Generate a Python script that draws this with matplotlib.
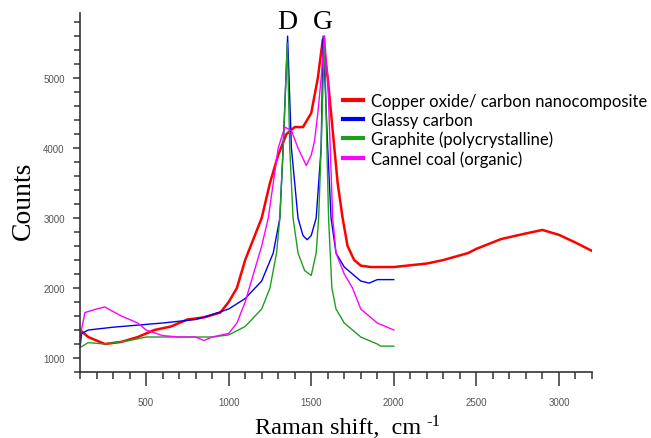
import matplotlib
matplotlib.use("Agg")
import matplotlib.pyplot as plt
from matplotlib.ticker import MultipleLocator
import matplotlib.transforms as mtransforms

# Raman spectra, values (cm-1, counts)
red_x = [100, 150, 250, 350, 450, 550, 650, 750, 850, 950, 1000, 1050, 1100,
         1150, 1200, 1250, 1300, 1350, 1400, 1450, 1500, 1540, 1570, 1600,
         1640, 1660, 1690, 1720, 1760, 1800, 1860, 2000, 2200, 2300, 2450,
         2500, 2650, 2800, 2900, 3000, 3100, 3200]
red_y = [1400, 1300, 1200, 1230, 1300, 1400, 1450, 1550, 1580, 1650, 1800,
         2000, 2400, 2700, 3000, 3500, 3900, 4200, 4300, 4300, 4500, 5000,
         5550, 5000, 4000, 3500, 3000, 2600, 2400, 2320, 2300, 2300, 2350,
         2400, 2500, 2560, 2700, 2780, 2830, 2760, 2650, 2530]

blue_x = [100, 110, 150, 300, 600, 800, 900, 1000, 1100, 1200, 1270, 1310,
          1330, 1357, 1380, 1420, 1450, 1475, 1500, 1530, 1560, 1572, 1600,
          1620, 1650, 1700, 1750, 1800, 1850, 1900, 2000]
blue_y = [1150, 1350, 1400, 1440, 1500, 1550, 1620, 1700, 1850, 2100, 2500,
          3000, 4000, 5600, 4000, 3000, 2750, 2690, 2750, 3000, 4000, 5600,
          4000, 3000, 2500, 2300, 2200, 2100, 2070, 2120, 2120]

green_x = [100, 150, 250, 400, 500, 700, 900, 1000, 1100, 1200, 1250, 1290,
           1310, 1330, 1355, 1370, 1390, 1420, 1460, 1500, 1530, 1545, 1560,
           1580, 1595, 1605, 1625, 1650, 1700, 1750, 1800, 1850, 1900, 1920,
           2000]
green_y = [1150, 1220, 1200, 1250, 1300, 1300, 1300, 1330, 1450, 1700, 2000,
           2500, 3000, 4000, 5500, 4000, 3000, 2500, 2250, 2180, 2500, 3000,
           4000, 5600, 4000, 3000, 2000, 1700, 1500, 1400, 1300, 1250, 1200,
           1170, 1170]

mag_x = [100, 130, 200, 250, 350, 450, 500, 600, 700, 800, 850, 900, 1000,
         1050, 1100, 1150, 1200, 1240, 1270, 1300, 1340, 1380, 1420, 1470,
         1500, 1520, 1540, 1560, 1580, 1600, 1615, 1630, 1650, 1700, 1750,
         1800, 1850, 1900, 1950, 2000]
mag_y = [1300, 1650, 1700, 1730, 1600, 1500, 1400, 1320, 1300, 1300, 1250,
         1300, 1350, 1500, 1800, 2200, 2600, 3000, 3500, 4000, 4300, 4250,
         4000, 3750, 3900, 4100, 4500, 5000, 5600, 5000, 4000, 3000, 2500,
         2200, 2000, 1700, 1600, 1500, 1450, 1400]

labels = ["Copper oxide/ carbon nanocomposite", "Glassy carbon",
          "Graphite (polycrystalline)", "Cannel coal (organic)"]
colors = ["#ff0000", "#0000f0", "#1e9e1e", "#ff00ff"]

W, H = 651, 439
fig = plt.figure(figsize=(W / 100, H / 100), dpi=100)
ax = fig.add_axes([80 / W, 1 - 373 / H, 512 / W, 359 / H])

ax.plot(red_x, red_y, color=colors[0], lw=1.8, label=labels[0])
ax.plot(blue_x, blue_y, color=colors[1], lw=1.0, label=labels[1])
ax.plot(green_x, green_y, color=colors[2], lw=1.0, label=labels[2])
ax.plot(mag_x, mag_y, color=colors[3], lw=1.0, label=labels[3])

ax.set_xlim(100, 3200)
ax.set_ylim(800, 5930)
ax.xaxis.set_major_locator(MultipleLocator(500))
ax.xaxis.set_minor_locator(MultipleLocator(100))
ax.yaxis.set_major_locator(MultipleLocator(1000))
ax.yaxis.set_minor_locator(MultipleLocator(200))

for s in ["top", "right"]:
    ax.spines[s].set_visible(False)
for s in ["left", "bottom"]:
    ax.spines[s].set_color("#333333")
    ax.spines[s].set_linewidth(1.2)

ax.tick_params(axis="x", which="major", length=10, width=1.1, color="#333333",
               labelsize=7, labelcolor="#555555", pad=8)
ax.tick_params(axis="x", which="minor", length=5, width=1.1, color="#333333")
ax.tick_params(axis="y", which="major", length=5, width=1.1, color="#333333",
               labelsize=7, labelcolor="#555555", pad=6)
ax.tick_params(axis="y", which="minor", length=4, width=1.1, color="#333333")
for t in ax.get_xticklabels() + ax.get_yticklabels():
    t.set_family("Liberation Sans")

# axis titles placed by hand, like the original
fig.text(255 / W, 1 - 434 / H, "Raman shift,  cm", family="Liberation Serif",
         fontsize=17.5, ha="left", va="baseline")
fig.text(426 / W, 1 - 426 / H, "-1", family="Liberation Serif",
         fontsize=12, ha="left", va="baseline")
fig.text(23 / W, 1 - 201 / H, "Counts", family="Liberation Serif",
         fontsize=20, rotation=90, ha="center", va="center")

trans = mtransforms.blended_transform_factory(ax.transData, ax.transAxes)
ax.text(1357, 0.975, "D", transform=trans, ha="center", va="center",
        family="Liberation Serif", fontsize=20)
ax.text(1570, 0.975, "G", transform=trans, ha="center", va="center",
        family="Liberation Serif", fontsize=20)

leg = ax.legend(loc="upper left", bbox_to_anchor=(343 / W, 1 - 94 / H),
                bbox_transform=fig.transFigure, frameon=False,
                prop={"family": "Lato", "size": 12}, borderpad=0,
                borderaxespad=0, handlelength=1.2, handletextpad=0.5,
                labelspacing=0.17)
for h in leg.legend_handles:
    h.set_linewidth(3)

fig.savefig("out.png", dpi=100)
